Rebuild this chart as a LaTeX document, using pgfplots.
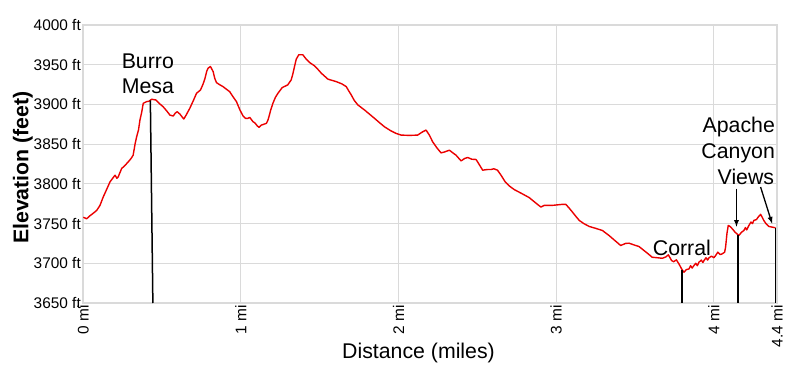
\documentclass[border=0pt]{standalone}
\usepackage{pgfplots}
\pgfplotsset{compat=1.18}
\usepackage{fontspec}
\setmainfont{Liberation Sans}
\definecolor{gridgray}{RGB}{218,218,218}
\definecolor{prof}{RGB}{235,0,0}
\begin{document}
\begin{tikzpicture}[x=1bp,y=1bp]
\begin{axis}[
  at={(83bp,73bp)}, anchor=south west,
  scale only axis, width=694bp, height=278bp,
  xmin=0, xmax=4.4, ymin=3650, ymax=4000,
  xtick={0,1,2,3,4,4.4},
  xticklabels={0 mi,1 mi,2 mi,3 mi,4 mi,4.4 mi},
  ytick={3650,3700,3750,3800,3850,3900,3950,4000},
  yticklabels={3650 ft,3700 ft,3750 ft,3800 ft,3850 ft,3900 ft,3950 ft,4000 ft},
  major tick length=0pt,
  grid=major,
  major grid style={draw=gridgray, line width=1bp},
  axis line style={draw=gridgray, line width=1.2bp},
  xticklabel style={rotate=90, anchor=east, inner sep=2bp, font=\fontsize{15.4bp}{18bp}\selectfont},
  yticklabel style={anchor=east, inner sep=2bp, font=\fontsize{15.4bp}{18bp}\selectfont},
  clip=false,
]
\addplot[prof, line width=1.4bp, line join=round] coordinates {
(0.002,3758) (0.023,3756) (0.045,3760) (0.065,3763) (0.087,3766.6) (0.108,3773)
(0.128,3783.4) (0.150,3793) (0.171,3802.4) (0.203,3810.9) (0.215,3807) (0.223,3808.7)
(0.245,3819.3) (0.265,3823) (0.287,3827.7) (0.305,3832) (0.318,3836.1) (0.330,3850)
(0.340,3859.2) (0.352,3868) (0.361,3880.3) (0.372,3890) (0.382,3901.4) (0.403,3903.5)
(0.418,3904) (0.435,3906.5) (0.462,3905.6) (0.485,3901) (0.508,3897.1) (0.530,3892)
(0.551,3886.6) (0.572,3885.4) (0.585,3889) (0.597,3890.8) (0.614,3887.9) (0.639,3881.6)
(0.655,3887) (0.677,3895.1) (0.700,3905) (0.720,3914.1) (0.745,3918.2) (0.760,3925)
(0.772,3931.8) (0.785,3942) (0.793,3945.7) (0.808,3947.7) (0.825,3941.4) (0.835,3933)
(0.846,3927.5) (0.865,3925) (0.888,3922.4) (0.910,3919) (0.930,3916.1) (0.950,3910)
(0.973,3903.5) (0.995,3893) (1.015,3885.4) (1.030,3882.5) (1.046,3882.5) (1.057,3883.7)
(1.078,3878.2) (1.089,3876.9) (1.105,3873) (1.116,3871.1) (1.131,3874) (1.163,3876.2)
(1.172,3880) (1.179,3884.5) (1.190,3893) (1.204,3901.4) (1.220,3909) (1.236,3914)
(1.263,3921.2) (1.298,3924.6) (1.320,3930.9) (1.330,3938) (1.341,3947.7) (1.352,3957)
(1.368,3962.5) (1.394,3962.5) (1.415,3957) (1.437,3952.7) (1.468,3948.6) (1.490,3944)
(1.511,3939.3) (1.553,3931.8) (1.606,3928.7) (1.640,3926) (1.669,3922.4) (1.685,3917)
(1.701,3911.9) (1.720,3905) (1.743,3899.3) (1.785,3893) (1.815,3888) (1.848,3882.5)
(1.880,3877) (1.911,3871.9) (1.950,3867) (1.985,3863.5) (2.017,3861.4) (2.070,3861)
(2.122,3861.4) (2.154,3865.6) (2.175,3867.7) (2.196,3861.4) (2.217,3852.9) (2.245,3845)
(2.270,3839) (2.290,3840) (2.323,3842.4) (2.345,3839) (2.365,3836.1) (2.397,3828.9)
(2.420,3832) (2.439,3833.2) (2.465,3831) (2.492,3830.7) (2.510,3825) (2.534,3817.2)
(2.560,3818) (2.587,3818.1) (2.605,3819) (2.628,3817.2) (2.650,3811) (2.677,3802.4)
(2.705,3797) (2.734,3792.8) (2.780,3788) (2.829,3782.7) (2.870,3776) (2.903,3770.8)
(2.924,3772.9) (2.980,3773) (3.040,3774.2) (3.061,3774.2) (3.080,3770) (3.103,3764.5)
(3.125,3759) (3.146,3754) (3.175,3750) (3.209,3746.4) (3.250,3744) (3.293,3741.3)
(3.315,3738) (3.335,3735) (3.370,3729) (3.409,3722.4) (3.440,3725) (3.462,3725.3)
(3.495,3723) (3.525,3721.1) (3.570,3714) (3.609,3707.6) (3.640,3707) (3.673,3706.3)
(3.695,3708) (3.711,3710.6) (3.732,3703.4) (3.745,3702) (3.762,3704.3) (3.778,3699.3)
(3.795,3693) (3.810,3688.7) (3.825,3692) (3.842,3692.9) (3.852,3697) (3.862,3694)
(3.873,3697.1) (3.885,3700) (3.895,3697) (3.905,3701.3) (3.920,3704) (3.930,3701)
(3.937,3703.4) (3.950,3707) (3.960,3704) (3.968,3706.8) (3.985,3709) (4.000,3707)
(4.011,3709.8) (4.025,3714) (4.040,3711) (4.053,3711.9) (4.068,3714) (4.074,3720.3)
(4.083,3738) (4.091,3747.7) (4.105,3746) (4.116,3743.5) (4.135,3739) (4.158,3735)
(4.175,3739) (4.190,3741.3) (4.200,3745) (4.208,3742) (4.222,3747.7) (4.235,3752)
(4.245,3750) (4.253,3754) (4.270,3755) (4.280,3758) (4.296,3761.6) (4.306,3758)
(4.316,3754) (4.330,3750) (4.348,3746.4) (4.370,3745.5) (4.391,3744.7)
};
% annotation lines
\addplot[black, line width=1.5bp] coordinates {(0.427,3905) (0.443,3650)};
\addplot[black, line width=1.5bp] coordinates {(3.797,3691) (3.797,3650)};
\addplot[black, line width=1.5bp] coordinates {(4.154,3735) (4.154,3650)};
\addplot[black, line width=1.5bp] coordinates {(4.390,3744) (4.390,3650)};
\draw[black, line width=1.3bp, -latex] (axis cs:4.143,3794) -- (axis cs:4.143,3746);
\draw[black, line width=1.3bp, -latex] (axis cs:4.296,3796) -- (axis cs:4.369,3750);
\begin{scope}[every node/.style={font=\fontsize{21.3bp}{25bp}\selectfont, inner sep=0pt}]
\node[anchor=base] at (axis cs:0.411,3944.8) {Burro};
\node[anchor=base] at (axis cs:0.411,3913.2) {Mesa};
\node[anchor=base] at (axis cs:3.797,3710) {Corral};
\node[anchor=base east] at (axis cs:4.388,3864.3) {Apache};
\node[anchor=base east] at (axis cs:4.388,3832) {Canyon};
\node[anchor=base east] at (axis cs:4.383,3799) {Views};
\end{scope}
\end{axis}
\node[anchor=base, font=\fontsize{21.3bp}{25bp}\selectfont, inner sep=0pt] at (418.5bp,17.7bp) {Distance (miles)};
\node[anchor=base, rotate=90, font=\fontsize{21.3bp}{25bp}\selectfont\bfseries, inner sep=0pt] at (28.3bp,208.5bp) {Elevation (feet)};
\pgfresetboundingbox
\useasboundingbox (0,0) rectangle (800bp,376bp);
\end{tikzpicture}
\end{document}
